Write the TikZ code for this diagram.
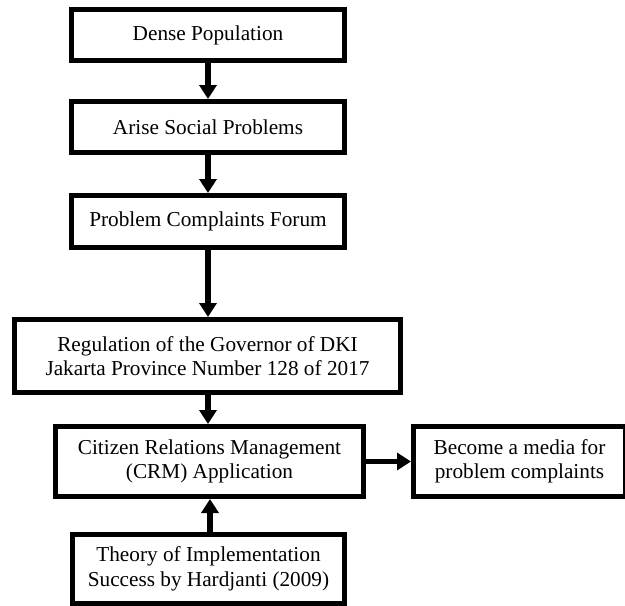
\documentclass[tikz,border=0pt]{standalone}
\usepackage{fontspec}
\setmainfont{Liberation Serif}
\usetikzlibrary{arrows.meta}
\begin{document}
\begin{tikzpicture}[x=1pt,y=-1pt,
  box/.style={draw=black,line width=5pt,fill=white,align=center,inner sep=0pt,
    font=\fontsize{21.25pt}{24.5pt}\selectfont},
  arr/.style={line width=5.5pt,-{Triangle[width=17pt,length=14pt]}}]
\useasboundingbox (0,0) rectangle (625,606);
\fill[white] (0,0) rectangle (625,606);
\clip (0,0) rectangle (625,606);
\node[box,minimum width=273pt,minimum height=51pt] (n1) at (208,35) {Dense Population};
\node[box,minimum width=273pt,minimum height=51pt] (n2) at (208,127) {Arise Social Problems};
\node[box,minimum width=273pt,minimum height=52pt] (n3) at (208,221.5) {Problem Complaints Forum};
\node[box,minimum width=386pt,minimum height=73pt] (n4) at (207.5,356) {Regulation of the Governor of DKI\\Jakarta Province Number 128 of 2017};
\node[box,minimum width=308pt,minimum height=70pt] (n5) at (209.5,461.5) {Citizen Relations Management\\(CRM) Application};
\node[box,minimum width=212pt,minimum height=70pt] (n6) at (519.5,461.5) {Become a media for\\problem complaints};
\node[box,minimum width=272pt,minimum height=69pt] (n7) at (208.5,569) {Theory of Implementation\\Success by Hardjanti (2009)};
\draw[arr] (n1.south) -- (n1.south |- n2.north);
\draw[arr] (n2.south) -- (n2.south |- n3.north);
\draw[arr] (n3.south) -- (n3.south |- n4.north);
\draw[arr] ([xshift=0.5pt]n4.south) -- ([xshift=0.5pt]n4.south |- n5.north);
\draw[arr] ([xshift=1.5pt]n7.north) -- ([xshift=1.5pt]n7.north |- n5.south);
\draw[arr] (n5.east) -- (n6.west);
\end{tikzpicture}
\end{document}
